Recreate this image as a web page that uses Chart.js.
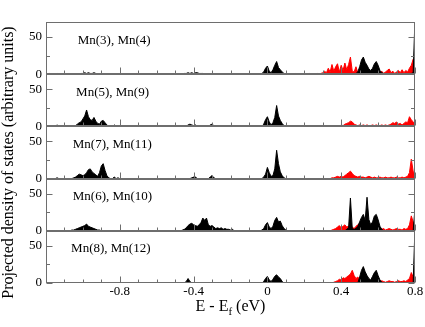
<!DOCTYPE html>
<html><head><meta charset="utf-8">
<script src="https://cdn.jsdelivr.net/npm/chart.js@4.4.1/dist/chart.umd.min.js"></script>
<style>
html,body{margin:0;padding:0;background:#fff;width:425px;height:327px;overflow:hidden}
canvas{position:absolute;left:0;top:0}
</style></head>
<body>
<canvas id="c0" width="425" height="327"></canvas>
<canvas id="c1" width="425" height="327"></canvas>
<canvas id="c2" width="425" height="327"></canvas>
<canvas id="c3" width="425" height="327"></canvas>
<canvas id="c4" width="425" height="327"></canvas>
<script>
// Energy sampling: E = E_MIN + i*E_STEP (eV), i = 0..200
const E_MIN = -1.2, E_STEP = 0.01;
const X_LABEL_TICKS = [-0.8, -0.4, 0, 0.4, 0.8];
const X_MAJOR_TICKS = [-1.2, -0.8, -0.4, 0, 0.4, 0.8];
const X_MINOR_TICKS = [-1.1,-1.0,-0.9,-0.7,-0.6,-0.5,-0.3,-0.2,-0.1,0.1,0.2,0.3,0.5,0.6,0.7];
const Y_MAJOR_TICKS = [0, 50];
const Y_MINOR_TICKS = [25];
const panelLabels = ["Mn(3), Mn(4)", "Mn(5), Mn(9)", "Mn(7), Mn(11)", "Mn(6), Mn(10)", "Mn(8), Mn(12)"];
const xTitle = ["E - E", "f", " (eV)"];
const yTitle = "Projected density of states (arbitrary units)";

// Panel 1: Mn(3), Mn(4)
const p1Black = [
0,0,0,0,0,0,1,0,0,0, 0,0,0,0,0,0,0,0,0,1, 1,2,1,2,1,1,2,1,0,0, 0,0,0,0,0,0,0,0,0,0,
0,0,0,0,0,0,0,0,0,0, 0,0,0,0,0,0,0,0,1,0, 0,0,0,0,0,0,0,0,0,0, 0,0,0,0,0,1,1,2,1,2,
1,2,2,1,1,1,0,0,0,0, 0,0,0,0,0,0,0,0,0,0, 0,0,0,0,0,0,0,0,0,0, 0,0,0,0,0,0,0,1,3,8,
11,4,2,6,12,17,9,6,3,1, 0,0,0,0,0,0,0,0,0,0, 0,0,0,0,0,0,0,0,0,0, 0,0,0,0,0,0,0,0,0,0,
0,0,0,0,0,0,0,0,1,3, 10,19,23,16,12,7,5,8,14,17, 12,5,2,1,0,0,0,0,0,0, 0,0,0,0,0,0,0,0,1,2,
75];
const p1Red = [
0,0,1,0,0,0,0,0,0,0, 0,0,0,0,0,0,0,0,0,0, 0,0,0,0,1,0,0,0,0,0, 0,0,0,0,0,0,0,0,0,0,
0,0,0,0,0,0,0,0,0,1, 0,0,0,0,0,0,0,0,0,0, 0,0,0,0,0,0,0,0,0,0, 0,0,0,0,0,0,0,0,0,0,
0,0,0,0,0,0,0,0,0,0, 0,0,0,0,0,0,0,0,0,0, 0,0,0,0,0,0,0,0,0,0, 0,0,0,0,0,0,0,0,0,0,
0,0,0,0,0,0,0,0,0,0, 0,0,0,0,0,1,0,0,0,0, 0,0,0,1,0,0,0,1,0,1, 2,4,2,8,3,13,4,10,14,3,
12,5,15,6,13,23,4,3,10,2, 5,2,6,3,2,5,2,4,2,5, 3,2,4,1,3,5,7,2,4,1, 3,5,2,6,2,5,3,8,12,20,
5];
// Panel 2: Mn(5), Mn(9)
const p2Black = [
0,0,0,0,0,0,2,0,0,1, 0,0,0,0,0,0,1,3,5,6, 10,14,22,13,9,8,12,7,4,3, 7,8,5,2,0,0,0,2,0,0,
0,0,0,0,0,0,0,0,0,0, 0,0,0,0,0,0,0,0,0,0, 0,0,0,0,0,0,0,0,0,0, 0,0,0,0,0,0,0,2,3,2,
1,2,0,0,0,0,0,0,0,2, 3,1,0,0,0,0,0,0,0,0, 0,0,0,0,0,0,0,0,0,0, 0,0,0,0,0,0,0,0,3,9,
13,6,2,5,12,28,14,8,4,1, 0,0,0,0,0,0,0,0,0,0, 0,0,0,0,0,0,0,0,0,0, 0,0,0,0,0,0,0,0,0,0,
0,0,0,0,0,0,0,0,0,0, 0,0,0,0,0,0,0,0,0,0, 0,0,0,0,0,0,0,0,0,0, 0,0,0,0,0,0,0,0,0,0,
0];
const p2Red = [
0,0,0,0,0,0,0,0,0,0, 0,0,0,0,0,0,0,0,0,0, 0,0,0,0,0,0,0,0,0,0, 0,0,0,0,0,0,0,0,0,0,
0,0,0,0,0,0,0,0,0,0, 0,0,0,0,0,0,0,0,0,0, 0,0,0,0,0,0,0,0,0,0, 0,0,0,0,0,0,0,0,0,0,
0,0,0,0,0,0,0,0,0,0, 0,0,0,0,0,0,0,0,0,0, 0,0,0,0,0,0,0,0,0,0, 0,0,0,0,0,0,0,0,0,0,
0,0,0,0,0,0,0,0,0,0, 0,0,0,0,0,0,0,0,0,0, 0,0,0,0,0,0,0,0,0,0, 0,0,0,0,0,0,1,0,1,0,
2,1,3,4,5,7,6,3,2,1, 2,1,2,1,2,1,1,2,1,2, 1,1,2,1,2,1,2,3,5,4, 6,3,4,2,4,6,5,13,9,6,
3];
// Panel 3: Mn(7), Mn(11)
const p3Black = [
0,0,0,0,0,0,1,0,0,0, 0,0,0,0,0,1,2,4,6,5, 4,5,8,12,13,9,7,5,3,8, 17,20,11,4,1,0,0,2,0,1,
0,0,0,0,0,0,0,0,0,0, 0,0,0,0,0,0,0,0,0,0, 0,0,0,0,0,0,0,0,0,0, 0,0,0,0,0,0,0,0,0,1,
2,2,0,0,0,0,0,0,0,2, 4,1,0,0,0,0,0,0,0,0, 0,0,0,0,0,0,0,0,0,0, 0,0,0,0,0,0,0,0,2,6,
15,8,3,4,13,38,20,9,4,1, 0,0,0,0,0,0,0,0,0,0, 0,0,0,0,0,0,0,0,0,0, 0,0,0,0,0,0,0,0,0,0,
0,0,0,0,0,0,0,0,0,0, 0,0,0,0,0,0,0,0,0,0, 0,0,0,0,0,0,0,0,0,0, 0,0,0,0,0,0,0,0,0,0,
0];
const p3Red = [
0,0,0,0,0,0,0,0,0,0, 0,0,0,0,0,0,0,0,0,0, 0,0,0,0,0,0,0,0,0,0, 0,0,0,0,0,0,0,0,0,0,
0,0,0,0,0,0,0,0,0,0, 0,0,0,0,0,0,0,0,0,0, 0,0,0,0,0,0,0,0,0,0, 0,0,0,0,0,0,0,0,0,0,
0,0,0,0,0,0,0,0,0,0, 0,0,0,0,0,0,0,0,0,0, 0,0,0,0,0,0,0,0,0,0, 0,0,0,0,0,0,0,0,0,0,
0,0,0,0,0,0,0,0,0,0, 0,0,0,0,0,0,0,0,0,0, 0,0,0,0,0,0,0,0,0,0, 0,0,0,0,0,1,1,2,3,2,
3,2,4,6,8,10,7,4,3,2, 3,2,2,1,2,3,2,1,2,1, 1,2,1,1,2,1,1,2,1,1, 2,1,1,2,1,2,3,8,26,10,
4];
// Panel 4: Mn(6), Mn(10)
const p4Black = [
0,0,0,0,0,0,0,0,0,0, 0,0,0,0,1,1,2,3,4,5, 6,7,9,6,5,4,3,2,1,1, 0,0,0,0,0,0,0,0,0,0,
0,0,0,0,0,0,0,0,0,0, 0,0,0,0,0,0,0,0,0,0, 0,0,0,0,0,0,0,0,0,0, 0,0,0,0,1,2,4,7,9,10,
8,7,6,8,11,17,14,17,8,6, 7,5,3,4,3,4,2,3,2,2, 1,2,0,0,0,0,0,0,0,0, 0,0,0,0,0,0,0,1,3,8,
11,5,3,6,14,18,12,13,7,3, 1,0,0,0,0,0,0,0,0,0, 0,0,0,0,0,0,0,0,0,0, 0,0,0,0,0,0,0,0,0,0,
0,0,0,2,4,44,3,2,3,6, 12,18,22,14,45,15,8,12,20,22, 15,6,2,0,0,0,0,0,0,0, 0,0,0,0,0,0,0,0,0,0,
30];
const p4Red = [
0,0,0,0,0,0,0,0,0,0, 0,0,0,0,0,0,0,0,0,0, 0,0,0,0,0,0,0,0,0,0, 0,0,0,0,0,0,0,0,0,0,
0,0,0,0,0,0,0,0,0,0, 0,0,0,0,0,0,0,0,0,0, 0,0,0,0,0,0,0,0,0,0, 0,0,0,0,0,0,0,0,0,0,
0,0,0,0,0,0,0,0,0,0, 0,0,0,0,0,0,0,0,0,0, 0,0,0,0,0,0,0,0,0,0, 0,0,0,0,0,0,0,0,0,0,
0,0,0,0,0,0,0,0,0,0, 0,0,0,0,0,0,0,0,0,0, 0,0,0,0,0,0,0,0,0,0, 0,0,0,0,0,1,2,3,5,7,
4,6,8,5,6,4,5,3,6,8, 10,6,4,7,5,3,4,5,3,4, 3,2,2,3,1,2,3,2,1,2, 3,2,2,1,3,2,3,8,20,12,
5];
// Panel 5: Mn(8), Mn(12)
const p5Black = [
0,0,0,0,0,0,0,0,0,0, 0,0,0,0,0,0,0,0,0,0, 0,0,0,0,0,0,0,0,0,0, 0,0,0,0,0,0,0,0,0,0,
0,0,0,0,0,0,0,0,0,0, 0,0,0,0,0,0,0,0,0,0, 0,0,0,0,0,0,0,0,0,0, 0,0,0,0,0,0,2,6,2,0,
0,0,0,0,0,0,0,0,0,0, 0,0,0,0,0,0,0,0,0,0, 0,0,0,0,0,0,0,0,0,0, 0,0,0,0,0,0,0,0,2,6,
9,4,2,5,9,11,8,6,2,0, 0,0,0,0,0,0,0,0,0,0, 0,0,0,0,0,0,0,0,0,0, 0,0,0,0,0,0,0,0,0,0,
0,0,0,0,0,0,0,0,0,0, 8,17,22,15,10,6,4,9,14,17, 10,4,1,0,0,0,0,0,0,0, 0,0,0,0,0,0,0,0,0,0,
75];
const p5Red = [
0,0,0,0,0,0,0,0,0,0, 0,0,0,0,0,0,0,0,0,0, 0,0,0,0,0,0,0,0,0,0, 0,0,0,0,0,0,0,0,0,0,
0,0,0,0,0,0,0,0,0,0, 0,0,0,0,0,0,0,0,0,0, 0,0,0,0,0,0,0,0,0,0, 0,0,0,0,0,0,0,0,0,0,
0,0,0,0,0,0,0,0,0,0, 0,0,0,0,0,0,0,0,0,0, 0,0,0,0,0,0,0,0,0,0, 0,0,0,0,0,0,0,0,0,0,
0,0,0,0,0,0,0,0,0,0, 0,0,0,0,0,0,0,0,0,0, 0,0,0,0,0,0,0,0,0,0, 0,0,0,0,0,0,1,2,3,5,
4,7,6,8,10,12,17,10,6,8, 5,7,4,6,3,5,3,4,3,5, 3,2,3,2,1,2,3,2,2,1, 2,3,2,2,3,2,4,6,14,8,
4];

const blackSeries = [p1Black, p2Black, p3Black, p4Black, p5Black];
const redSeries = [p1Red, p2Red, p3Red, p4Red, p5Red];

// layout (pixels)
const PANEL_TOPS = [22, 74.2, 126.4, 178.6, 230.8];
const PANEL_H = 52.2;
const W = 425, H = 327;
const FONT = "'Liberation Serif', 'Times New Roman', serif";
const FRAME = '#6e6e6e';

const toPts = vals => vals.map((v, i) => ({x: +(E_MIN + i * E_STEP).toFixed(2), y: v}));

const framePlugin = {
  id: 'frame',
  afterDatasetsDraw(chart, args, opts) {
    const {ctx, chartArea: a, scales: {x, y}} = chart;
    const L = Math.round(a.left) + 0.5, R = Math.round(a.right) - 0.5;
    const T = Math.round(a.top) + 0.5, B = Math.round(a.bottom) - 0.5;
    ctx.save();
    ctx.strokeStyle = FRAME; ctx.lineWidth = 1;
    ctx.beginPath();
    X_MAJOR_TICKS.forEach(v => { const px = Math.round(x.getPixelForValue(v)) + 0.5; ctx.moveTo(px, B); ctx.lineTo(px, B - 6); });
    X_MINOR_TICKS.forEach(v => { const px = Math.round(x.getPixelForValue(v)) + 0.5; ctx.moveTo(px, B); ctx.lineTo(px, B - 3); });
    Y_MAJOR_TICKS.forEach(v => { const py = Math.round(y.getPixelForValue(v)) + 0.5; ctx.moveTo(L, py); ctx.lineTo(L + 6, py); ctx.moveTo(R, py); ctx.lineTo(R - 6, py); });
    Y_MINOR_TICKS.forEach(v => { const py = Math.round(y.getPixelForValue(v)) + 0.5; ctx.moveTo(L, py); ctx.lineTo(L + 3.5, py); ctx.moveTo(R, py); ctx.lineTo(R - 3.5, py); });
    ctx.stroke();
    ctx.strokeRect(L, T, R - L, B - T);
    // panel label
    ctx.fillStyle = '#000';
    ctx.font = "13px " + FONT;
    ctx.textAlign = 'left'; ctx.textBaseline = 'alphabetic';
    ctx.fillText(opts.label, x.getPixelForValue(opts.labelX), y.getPixelForValue(41));
    ctx.restore();
  }
};

const titlePlugin = {
  id: 'titles',
  afterDraw(chart) {
    const {ctx, chartArea: a} = chart;
    ctx.save();
    ctx.fillStyle = '#000';
    ctx.textBaseline = 'alphabetic';
    ctx.textAlign = 'left';
    const big = "16px " + FONT, small = "11px " + FONT;
    ctx.font = big; const w1 = ctx.measureText(xTitle[0]).width, w3 = ctx.measureText(xTitle[2]).width;
    ctx.font = small; const w2 = ctx.measureText(xTitle[1]).width;
    const total = w1 + w2 + w3;
    let sx = (a.left + a.right) / 2 - total / 2;
    const by = 311;
    ctx.font = big; ctx.fillText(xTitle[0], sx, by);
    ctx.font = small; ctx.fillText(xTitle[1], sx + w1, by + 4);
    ctx.font = big; ctx.fillText(xTitle[2], sx + w1 + w2, by);
    // y title
    ctx.translate(12.5, 162.5);
    ctx.rotate(-Math.PI / 2);
    ctx.textAlign = 'center';
    ctx.font = big;
    ctx.fillText(yTitle, 0, 0);
    ctx.restore();
  }
};

const LABEL_X = [-1.028, -1.037, -1.055, -1.055, -1.064];

for (let p = 0; p < 5; p++) {
  const last = p === 4;
  const xh = last ? 20 : 0;
  const top = PANEL_TOPS[p];
  const bottom = top + PANEL_H;
  new Chart(document.getElementById('c' + p), {
    type: 'line',
    data: {
      datasets: [
        {label: 'black', data: toPts(blackSeries[p]), borderColor: '#000', backgroundColor: '#000',
         fill: 'origin', borderWidth: 1, pointRadius: 0, tension: 0},
        {label: 'red', data: toPts(redSeries[p]), borderColor: '#ff0000', backgroundColor: '#ff0000',
         fill: 'origin', borderWidth: 1, pointRadius: 0, tension: 0}
      ]
    },
    options: {
      responsive: false, animation: false, events: [],
      layout: {padding: {left: 0, right: 10, top: top, bottom: H - bottom - xh}},
      plugins: {legend: {display: false}, tooltip: {enabled: false},
        frame: {label: panelLabels[p], labelX: LABEL_X[p]}},
      scales: {
        x: {type: 'linear', min: -1.2, max: 0.8,
          grid: {display: false, drawTicks: false}, border: {display: false},
          ticks: {display: last, autoSkip: false, maxRotation: 0, padding: 1, color: '#000',
            font: {family: FONT, size: 13}, callback: v => String(v)},
          afterBuildTicks: s => { s.ticks = X_LABEL_TICKS.map(v => ({value: v})); },
          afterFit: s => { s.height = xh; s.paddingLeft = 0; s.paddingRight = 0; s.paddingTop = 0; s.paddingBottom = 0; }
        },
        y: {type: 'linear', min: 0, max: 70,
          grid: {display: false, drawTicks: false}, border: {display: false},
          ticks: {autoSkip: false, padding: 4, color: '#000', font: {family: FONT, size: 13}, callback: v => String(v)},
          afterBuildTicks: s => { s.ticks = Y_MAJOR_TICKS.map(v => ({value: v})); },
          afterFit: s => { s.width = 46; s.paddingTop = 0; s.paddingBottom = 0; s.paddingLeft = 0; s.paddingRight = 0; }
        }
      }
    },
    plugins: last ? [framePlugin, titlePlugin] : [framePlugin]
  });
}
</script>
</body></html>
